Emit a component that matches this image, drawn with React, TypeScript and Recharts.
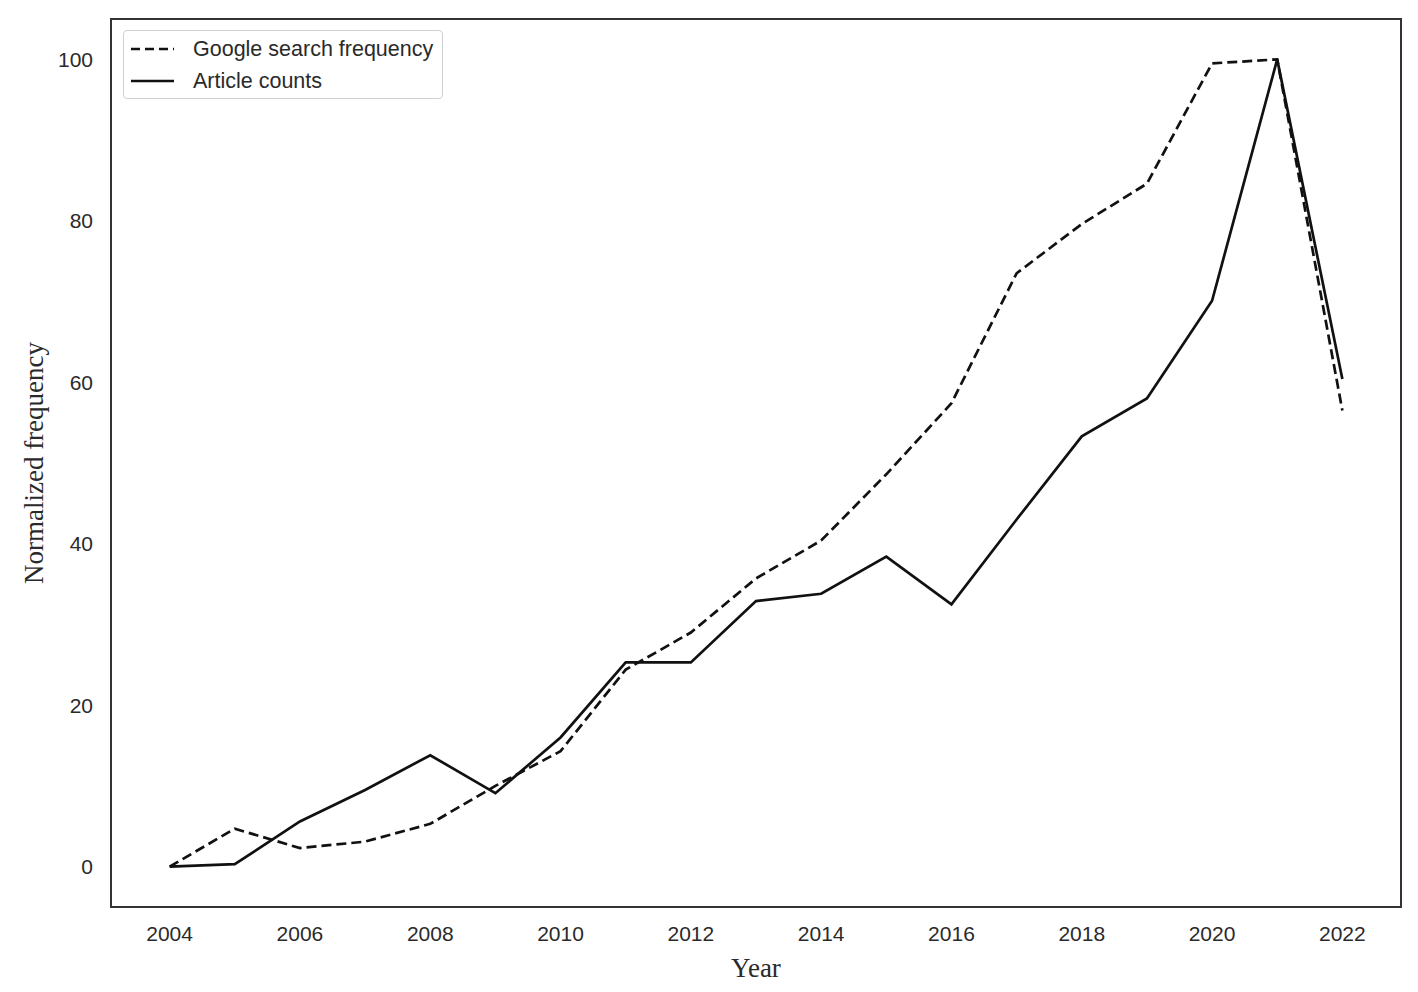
import React from 'react';
import { LineChart, Line, XAxis, YAxis, ReferenceArea } from 'recharts';

const years = [2004, 2005, 2006, 2007, 2008, 2009, 2010, 2011, 2012, 2013, 2014, 2015, 2016, 2017, 2018, 2019, 2020, 2021, 2022];
const googleSearch = [0, 4.7, 2.3, 3.1, 5.3, 10.0, 14.3, 24.4, 29.0, 35.7, 40.4, 48.6, 57.4, 73.5, 79.6, 84.6, 99.5, 100, 56.5];
const articleCounts = [0, 0.3, 5.6, 9.5, 13.8, 9.1, 16.0, 25.3, 25.3, 32.9, 33.8, 38.4, 32.5, 43.0, 53.3, 58.0, 70.1, 100, 60.4];
const xTicks = [2004, 2006, 2008, 2010, 2012, 2014, 2016, 2018, 2020, 2022];
const yTicks = [0, 20, 40, 60, 80, 100];
const xDomain = [2003.1, 2022.9];
const yDomain = [-5, 105];

const data = years.map((year, i) => ({ year, google: googleSearch[i], articles: articleCounts[i] }));

const tickStyle = { fontFamily: 'Liberation Sans, Arial, sans-serif', fontSize: 21, fill: '#2a2a2a' };
const labelStyle = { fontFamily: 'Liberation Serif, Times New Roman, serif', fontSize: 27, fill: '#2a2a2a' };

function LegendBox() {
  const row = (dash: string | undefined, text: string, top: number) => (
    <div style={{ position: 'absolute', left: 0, top: top - 15, height: 30, display: 'flex', alignItems: 'center' }}>
      <svg width={60} height={30} style={{ display: 'block' }}>
        <line x1={7} x2={50} y1={15} y2={15} stroke="#111" strokeWidth={2.7} strokeDasharray={dash} />
      </svg>
      <span style={{ marginLeft: 9, fontFamily: 'Liberation Sans, Arial, sans-serif', fontSize: 21.5, color: '#2a2a2a', whiteSpace: 'nowrap' }}>{text}</span>
    </div>
  );
  return (
    <div style={{ position: 'absolute', left: 123, top: 30, width: 320, height: 69, border: '1px solid #d0d0d0', borderRadius: 4, background: '#fff', boxSizing: 'border-box' }}>
      {row('9 5', 'Google search frequency', 18)}
      {row(undefined, 'Article counts', 50)}
    </div>
  );
}

export default function App() {
  return (
    <div style={{ position: 'absolute', left: 0, top: 0, width: 1418, height: 992, background: '#fff' }}>
      <LineChart width={1418} height={992} data={data} margin={{ top: 19, right: 17, bottom: 10, left: 11 }}>
        <XAxis
          dataKey="year"
          type="number"
          domain={xDomain}
          ticks={xTicks}
          allowDataOverflow
          height={75}
          tickLine={false}
          tickSize={0}
          tickMargin={19}
          axisLine={false}
          tick={tickStyle}
          label={{ value: 'Year', position: 'insideBottom', offset: 5, style: { ...labelStyle, textAnchor: 'middle' } }}
        />
        <YAxis
          type="number"
          domain={yDomain}
          ticks={yTicks}
          allowDataOverflow
          width={100}
          tickLine={false}
          tickSize={0}
          tickMargin={18}
          axisLine={false}
          tick={tickStyle}
          label={{ value: 'Normalized frequency', angle: -90, position: 'insideLeft', offset: 22, style: { ...labelStyle, textAnchor: 'middle' } }}
        />
        <ReferenceArea x1={xDomain[0]} x2={xDomain[1]} y1={yDomain[0]} y2={yDomain[1]} fill="none" stroke="#333" strokeWidth={2} ifOverflow="visible" />
        <Line type="linear" dataKey="google" stroke="#111" strokeWidth={2.7} strokeDasharray="10 5" dot={false} isAnimationActive={false} />
        <Line type="linear" dataKey="articles" stroke="#111" strokeWidth={2.7} dot={false} isAnimationActive={false} />
      </LineChart>
      <LegendBox />
    </div>
  );
}
